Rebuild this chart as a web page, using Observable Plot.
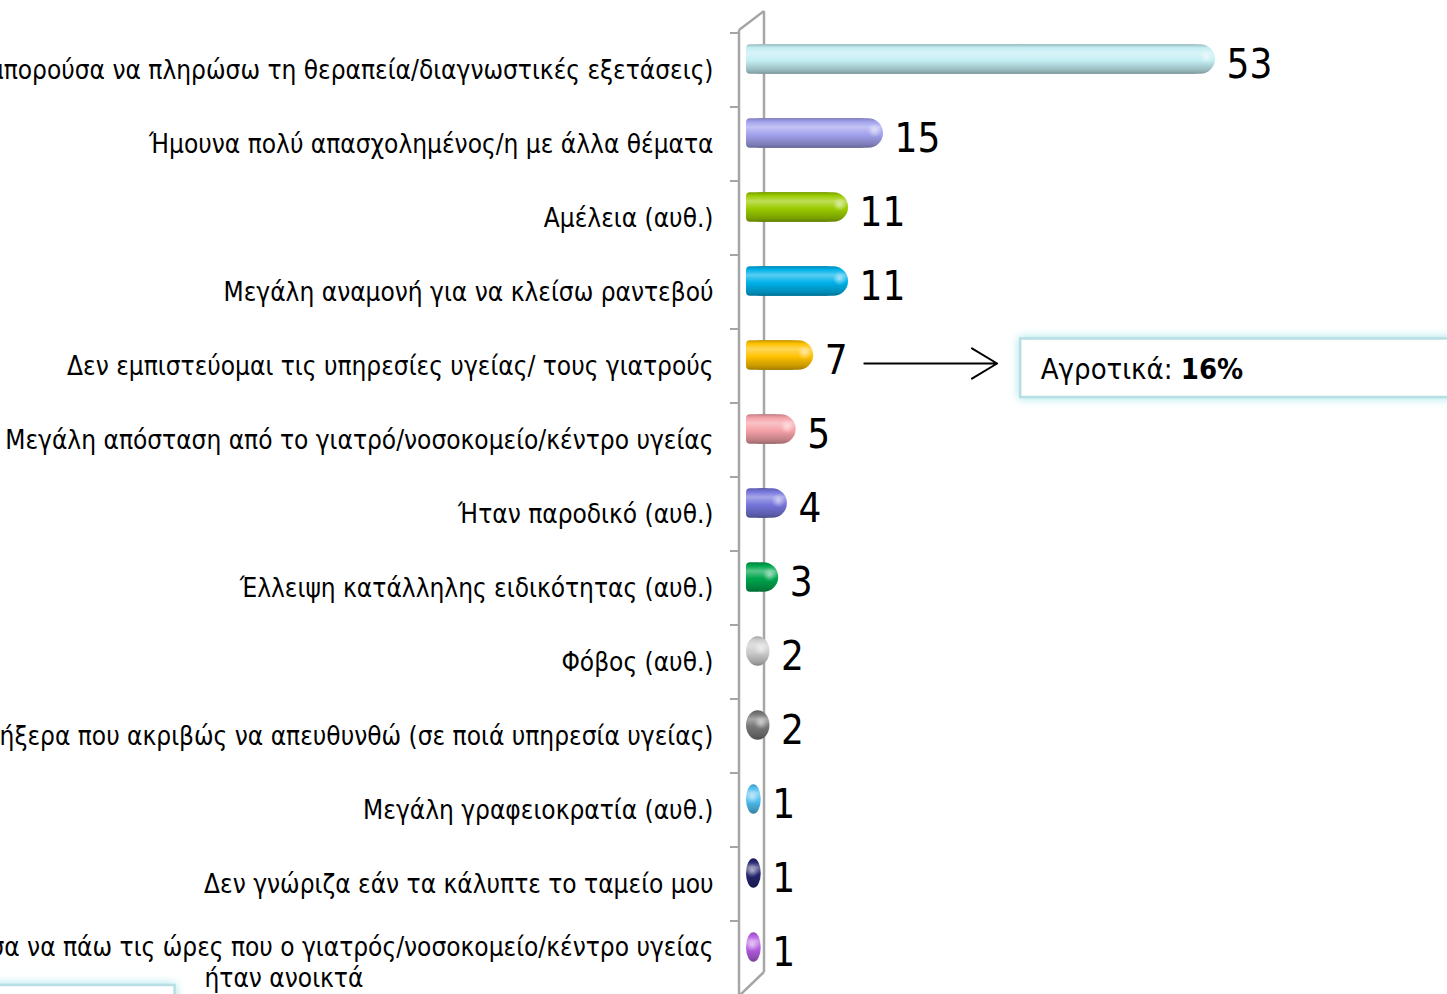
<!DOCTYPE html>
<html>
<head>
<meta charset="utf-8">
<script src="https://cdn.jsdelivr.net/npm/d3@7"></script>
<script src="https://cdn.jsdelivr.net/npm/@observablehq/plot@0.6"></script>
<style>
  html, body { margin: 0; padding: 0; background: #fff; }
  #chart { width: 1447px; height: 994px; overflow: hidden; }
  #chart svg { font-family: Tahoma, "DejaVu Sans Condensed", "DejaVu Sans", sans-serif; }
</style>
</head>
<body>
<div id="chart"></div>
<script>
// ---- data ----
const categories = [
  "Οικονομικοί λόγοι (Δεν μπορούσα να πληρώσω τη θεραπεία/διαγνωστικές εξετάσεις)",
  "Ήμουνα πολύ απασχολημένος/η με άλλα θέματα",
  "Αμέλεια (αυθ.)",
  "Μεγάλη αναμονή για να κλείσω ραντεβού",
  "Δεν εμπιστεύομαι τις υπηρεσίες υγείας/ τους γιατρούς",
  "Μεγάλη απόσταση από το γιατρό/νοσοκομείο/κέντρο υγείας",
  "Ήταν παροδικό (αυθ.)",
  "Έλλειψη κατάλληλης ειδικότητας (αυθ.)",
  "Φόβος (αυθ.)",
  "Δεν ήξερα που ακριβώς να απευθυνθώ (σε ποιά υπηρεσία υγείας)",
  "Μεγάλη γραφειοκρατία (αυθ.)",
  "Δεν γνώριζα εάν τα κάλυπτε το ταμείο μου",
  "Δεν μπορούσα να πάω τις ώρες που ο γιατρός/νοσοκομείο/κέντρο υγείας\nήταν ανοικτά"
];
const values = [53, 15, 11, 11, 7, 5, 4, 3, 2, 2, 1, 1, 1];
const colors = ["#c3eef3", "#a2a2ee", "#9bcc00", "#00b2ea", "#ffc200", "#f5a2a8",
                "#7676dc", "#00a64e", "#cdcdcd", "#777777", "#50bff0", "#24246e", "#b55ee2"];
// callout annotation (rural share) attached to the 5th category
const calloutCategory = categories[4];
const calloutLabel = "Αγροτικά:";
const calloutValue = "16%";
const arrowSpan = [{y: calloutCategory, x1: 12.8, x2: 28}];
const calloutBox = [{y: calloutCategory, x1: 30.7, x2: 80}];
const calloutText = [{y: calloutCategory, x: 33, text: calloutLabel + " " + calloutValue}];
const bottomBox = [{y: categories[12], x1: -95, x2: -66.1}];

const data = categories.map((c, i) => ({label: c, value: values[i], color: colors[i], idx: i}));

// 3D wall (axis base) drawn with the scales
function wall(index, scales, values, dims) {
  const x0 = scales.x(0);
  const g = d3.create("svg:g");
  const front = x0 - 13, back = x0 + 12;
  const top = dims.marginTop, bottom = dims.height;
  const col = "#a6a6a6";
  const path = d3.path();
  path.moveTo(back, top - 20); path.lineTo(back, bottom - 22);
  path.moveTo(front, top - 1); path.lineTo(front, bottom + 5);
  path.moveTo(front, top - 1); path.lineTo(back, top - 20);
  path.moveTo(front, bottom + 2); path.lineTo(back, bottom - 22);
  g.append("path").attr("d", path.toString()).attr("fill", "none").attr("stroke", col).attr("stroke-width", 2.5);
  const ticks = d3.path();
  for (const c of categories) {
    const y = scales.y(c);
    ticks.moveTo(front - 9, y); ticks.lineTo(front, y);
  }
  g.append("path").attr("d", ticks.toString()).attr("stroke", col).attr("stroke-width", 2);
  return g.node();
}

const chart = Plot.plot({
  width: 1447,
  height: 994,
  marginLeft: 752,
  marginRight: 232,
  marginTop: 31,
  marginBottom: -3.5,
  x: {domain: [0, 53], axis: null},
  y: {type: "band", domain: categories, padding: 0, axis: null},
  marks: [
    wall,
    Plot.barX(data, {y: "label", x1: 0, x2: "value", fill: (d) => `url(#grad${d.idx})`,
      insetTop: 11.2, insetBottom: 33.2, insetLeft: -6, rx: 15}),
    Plot.barX(data.filter(d => d.value >= 3), {y: "label", x1: 0, x2: (d) => d.value - 2,
      fill: (d) => `url(#grad${d.idx})`, insetTop: 11.2, insetBottom: 33.2, insetLeft: -6, rx: 4}),
    Plot.dot(data, {y: "label", x: "value", r: 7, dx: -9, dy: -14, fill: "url(#spec)", stroke: "none"}),
    Plot.text(data, {y: "label", x: "value", text: (d) => String(d.value), dx: 11, dy: -5,
      textAnchor: "start", fontSize: 40, fill: "#000"}),
    Plot.text(data, {y: "label", x: 0, text: "label", dx: -39, dy: -2, textAnchor: "end",
      fontSize: 26, lineHeight: 1.23, fill: "#000", ariaDescription: "cat-labels"}),
    Plot.arrow(arrowSpan, {x1: "x1", x2: "x2", y1: "y", y2: "y", stroke: "#000", strokeWidth: 2,
      headLength: 22, headAngle: 62, bend: 0, dy: -3}),
    Plot.barX(calloutBox, {y: "y", x1: "x1", x2: "x2", fill: "#fff", stroke: "#b6dfe3", strokeWidth: 2.5,
      insetTop: 9.5, insetBottom: 6, ariaDescription: "callout-box"}),
    Plot.barX(bottomBox, {y: "y", x1: "x1", x2: "x2", fill: "#fff", stroke: "#b6dfe3", strokeWidth: 2.5,
      insetTop: 64, insetBottom: -20, ariaDescription: "callout-box"}),
    Plot.text(calloutText, {y: "y", x: "x", text: "text", textAnchor: "start", fontSize: 29, dy: 3,
      fill: "#000", ariaDescription: "callout-text"})
  ]
});

// gradients for 3D cylinder look
const svg = d3.select(chart);
const defs = svg.insert("defs", ":first-child");
colors.forEach((c, i) => {
  const light = d3.interpolateRgb(c, "#ffffff")(0.35);
  const dark = d3.interpolateRgb(c, "#000000")(0.22);
  const darker = d3.interpolateRgb(c, "#000000")(0.36);
  const gr = defs.append("linearGradient").attr("id", `grad${i}`).attr("x1", 0).attr("y1", 0).attr("x2", 0).attr("y2", 1);
  gr.append("stop").attr("offset", "0%").attr("stop-color", dark);
  gr.append("stop").attr("offset", "12%").attr("stop-color", c);
  gr.append("stop").attr("offset", "30%").attr("stop-color", light);
  gr.append("stop").attr("offset", "55%").attr("stop-color", c);
  gr.append("stop").attr("offset", "88%").attr("stop-color", dark);
  gr.append("stop").attr("offset", "100%").attr("stop-color", darker);
});
const spec = defs.append("radialGradient").attr("id", "spec");
spec.append("stop").attr("offset", "0%").attr("stop-color", "#fff").attr("stop-opacity", 0.55);
spec.append("stop").attr("offset", "100%").attr("stop-color", "#fff").attr("stop-opacity", 0);
const glow = defs.append("filter").attr("id", "glow").attr("x", "-10%").attr("y", "-50%").attr("width", "120%").attr("height", "200%");
glow.append("feDropShadow").attr("dx", 0).attr("dy", 0).attr("stdDeviation", 5).attr("flood-color", "#9fe2ea").attr("flood-opacity", 1);

document.getElementById("chart").appendChild(chart);

function pick(desc, tag) {
  return Array.from(chart.querySelectorAll(`[aria-description='${desc}']`)).flatMap(n =>
    n.tagName.toLowerCase() === tag ? [n] : Array.from(n.querySelectorAll(tag)));
}
pick("callout-box", "rect").forEach(r => r.setAttribute("filter", "url(#glow)"));
pick("callout-text", "text").forEach(el => {
  const t = d3.select(el);
  t.text(null);
  t.append("tspan").text(calloutLabel + " ");
  t.append("tspan").attr("font-weight", "bold").text(calloutValue);
});
// center multi-line category labels on their longest line
pick("cat-labels", "text").forEach(el => {
  const spans = el.querySelectorAll("tspan");
  if (spans.length > 1) {
    let w = 0;
    spans.forEach(s => { w = Math.max(w, s.getComputedTextLength()); });
    el.setAttribute("text-anchor", "middle");
    spans.forEach(s => s.setAttribute("x", -w / 2));
    spans[0].setAttribute("y", -1);
  }
});
</script>
</body>
</html>
